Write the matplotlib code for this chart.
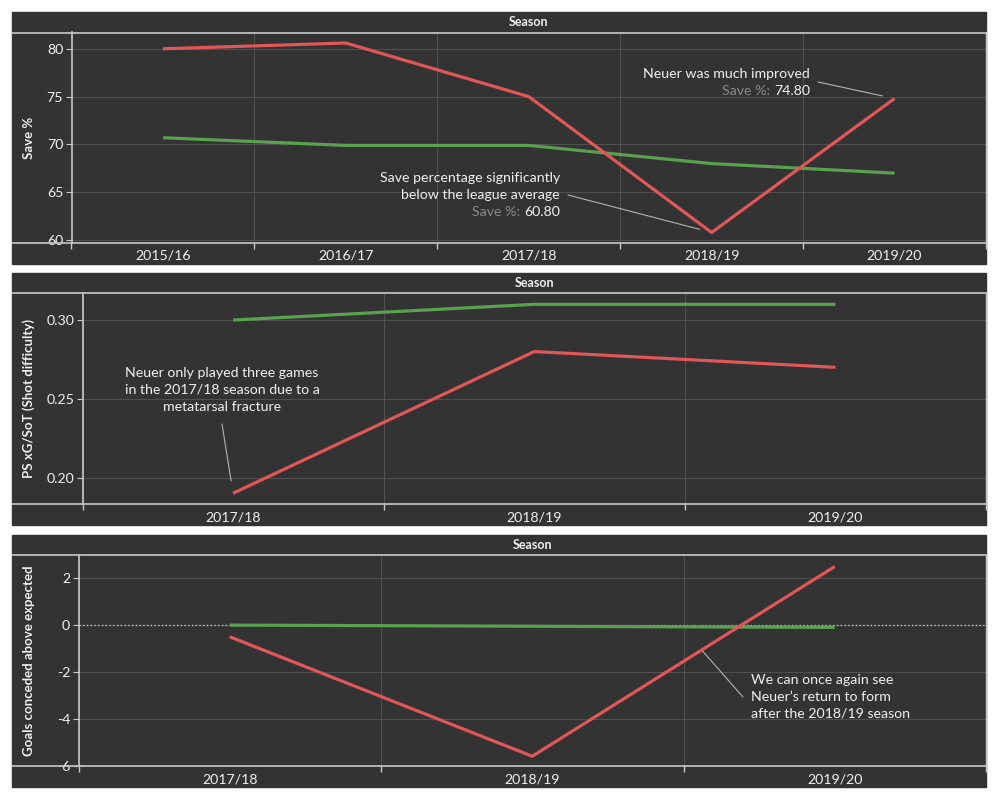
import matplotlib
matplotlib.use('Agg')
import matplotlib.pyplot as plt
from matplotlib.patches import Rectangle
from matplotlib.lines import Line2D
import numpy as np

plt.rcParams['font.family'] = ['Lato', 'DejaVu Sans']
plt.rcParams['axes.unicode_minus'] = False

# ── Data ──
seasons_all = ['2015/16', '2016/17', '2017/18', '2018/19', '2019/20']
neuer_save = [80.0, 80.6, 75.0, 60.8, 74.8]
league_save = [70.7, 69.9, 69.9, 68.0, 67.0]

seasons_recent = ['2017/18', '2018/19', '2019/20']
neuer_psxg = [0.19, 0.28, 0.27]
league_psxg = [0.30, 0.31, 0.31]

neuer_gcae = [-0.5, -5.6, 2.5]
league_gcae = [0.0, -0.05, -0.1]

# ── Colours ──
BG = '#333333'
AXIS = '#c8c8c8'
GRID = '#505050'
TXT = '#f0f0f0'
GREY_TXT = '#8a8a8a'
RED = '#E15759'
GREEN = '#59A14F'
LEAD = '#b4b4b4'

FS = 10.2  # annotation / tick text size
LS = 1.5   # line spacing of multi-line notes

W, H = 1000, 800
fig = plt.figure(figsize=(10, 8), dpi=100)
fig.patch.set_facecolor('white')


def fx(px):
    return px / W


def fy(py):
    return 1 - py / H


def panel(top, bot, ax_left, ax_top, ax_bot, cats, neuer, league, ylim, yticks, ylabel, yfmt):
    left, right = 12, 986
    fig.add_artist(Rectangle((fx(left), fy(bot)), fx(right) - fx(left), (bot - top) / H,
                             transform=fig.transFigure, color=BG, zorder=0))
    ax = fig.add_axes([fx(ax_left), fy(ax_bot), fx(right) - fx(ax_left), (ax_bot - ax_top) / H])
    ax.set_facecolor(BG)
    for y in (ax_top, ax_bot):
        fig.add_artist(Line2D([fx(left), fx(right)], [fy(y), fy(y)], transform=fig.transFigure,
                              color=AXIS, lw=1.2, zorder=5))
    ax.spines['top'].set_visible(False)
    ax.spines['bottom'].set_visible(False)
    ax.spines['left'].set_color(AXIS)
    ax.spines['right'].set_color(AXIS)
    ax.spines['left'].set_linewidth(1.2)
    ax.spines['right'].set_linewidth(1.0)

    x = np.arange(len(cats))
    ax.plot(x, league, color=GREEN, lw=2.3, solid_capstyle='butt', zorder=3)
    ax.plot(x, neuer, color=RED, lw=2.3, solid_capstyle='butt', zorder=4)

    ax.set_xlim(-0.5, len(cats) - 0.5)
    ax.set_ylim(*ylim)
    ax.set_xticks(x)
    ax.set_xticklabels(cats)
    ax.set_xticks(np.arange(len(cats) + 1) - 0.5, minor=True)
    ax.tick_params(axis='x', which='major', length=0, pad=5, labelsize=FS, labelcolor=TXT)
    ax.tick_params(axis='x', which='minor', length=4, width=1, color=AXIS, direction='out')
    ax.set_yticks(yticks)
    ax.set_yticklabels([yfmt.format(v) for v in yticks])
    ax.tick_params(axis='y', length=4, width=0.8, color=AXIS, pad=2, labelsize=FS, labelcolor=TXT)
    ax.grid(True, axis='y', which='major', color=GRID, lw=0.8)
    ax.grid(True, axis='x', which='minor', color=GRID, lw=0.8)
    ax.grid(False, axis='x', which='major')
    ax.set_axisbelow(True)

    fig.text(fx((ax_left + right) / 2), fy((top + ax_top) / 2), 'Season', ha='center', va='center',
             fontsize=9, fontweight='bold', color=TXT)
    fig.text(fx(29), fy((ax_top + ax_bot) / 2), ylabel, rotation=90, ha='center', va='center',
             fontsize=9.5, fontweight='bold', color=TXT)
    return ax


def save_label(ax, x_end, y, value):
    r = fig.canvas.get_renderer()
    t = ax.text(x_end, H - y, '{:.2f}'.format(value), transform=None, ha='right', va='center',
                fontsize=FS, color=TXT)
    bb = t.get_window_extent(renderer=r)
    ax.text(bb.x0, H - y, 'Save %: ', transform=None, ha='right', va='center',
            fontsize=FS, color=GREY_TXT)


# ── Panel 1: Save % ──
ax1 = panel(12, 264, 71.5, 32.5, 243, seasons_all, neuer_save, league_save,
            (59.7, 81.7), [60, 65, 70, 75, 80], 'Save %', '{:.0f}')
i_low = int(np.argmin(neuer_save))
ax1.annotate('', xy=(i_low, neuer_save[i_low]), xytext=(568, H - 195), textcoords='figure pixels',
             arrowprops=dict(arrowstyle='-', color=LEAD, lw=0.8, shrinkA=0, shrinkB=9))
ax1.text(560, H - 186.5, 'Save percentage significantly\nbelow the league average', transform=None,
         ha='right', va='center', multialignment='right', fontsize=FS, color=TXT, linespacing=LS)
save_label(ax1, 560, 212, neuer_save[i_low])

ax1.annotate('', xy=(4, neuer_save[4]), xytext=(818, H - 82), textcoords='figure pixels',
             arrowprops=dict(arrowstyle='-', color=LEAD, lw=0.8, shrinkA=0, shrinkB=9))
ax1.text(810, H - 74, 'Neuer was much improved', transform=None, ha='right', va='center',
         fontsize=FS, color=TXT)
save_label(ax1, 810, 91, neuer_save[4])

# ── Panel 2: PS xG/SoT ──
ax2 = panel(273, 525, 82.5, 293.3, 504.3, seasons_recent, neuer_psxg, league_psxg,
            (0.183, 0.317), [0.20, 0.25, 0.30], 'PS xG/SoT (Shot difficulty)', '{:.2f}')
ax2.annotate('', xy=(0, neuer_psxg[0]), xytext=(222, H - 424), textcoords='figure pixels',
             arrowprops=dict(arrowstyle='-', color=LEAD, lw=0.8, shrinkA=0, shrinkB=9))
ax2.text(222, H - 390, 'Neuer only played three games\nin the 2017/18 season due to a\nmetatarsal fracture',
         transform=None, ha='center', va='center', multialignment='center', fontsize=FS,
         color=TXT, linespacing=LS)

# ── Panel 3: Goals conceded above expected ──
ax3 = panel(535, 787, 78.5, 555.3, 766.3, seasons_recent, neuer_gcae, league_gcae,
            (-6.03, 2.98), [-6, -4, -2, 0, 2], 'Goals conceded above expected', '{:.0f}')
ax3.axhline(0, color='#dddddd', lw=0.9, ls=(0, (1, 2)), zorder=2)
xa = 1.56
ya = np.interp(xa, np.arange(len(neuer_gcae)), neuer_gcae)
ax3.annotate('', xy=(xa, ya), xytext=(743, H - 697), textcoords='figure pixels',
             arrowprops=dict(arrowstyle='-', color=LEAD, lw=0.8, shrinkA=0, shrinkB=0))
ax3.text(751, H - 697, 'We can once again see\nNeuer\u2019s return to form\nafter the 2018/19 season',
         transform=None, ha='left', va='center', multialignment='left', fontsize=FS,
         color=TXT, linespacing=LS)

fig.savefig('out.png', dpi=100, facecolor='white')
